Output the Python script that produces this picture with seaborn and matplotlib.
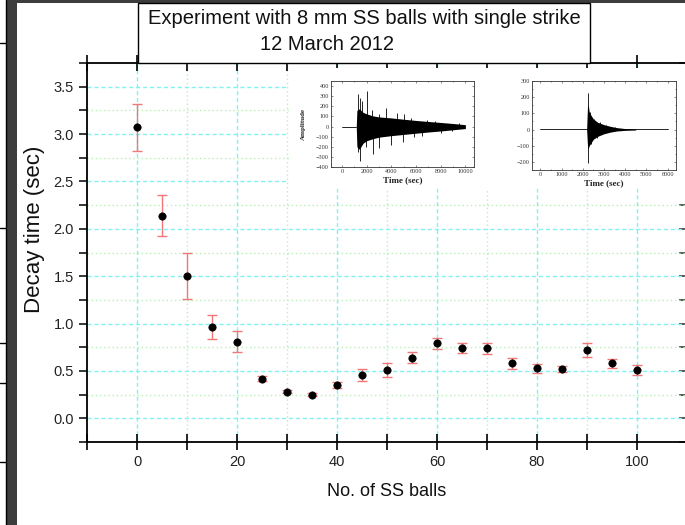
import matplotlib
matplotlib.use("Agg")
import matplotlib.pyplot as plt
import seaborn as sns
from matplotlib.patches import Rectangle
from matplotlib.lines import Line2D
from matplotlib.ticker import MultipleLocator

# main plot: decay time vs number of balls
balls = [0, 5, 10, 15, 20, 25, 30, 35, 40, 45, 50, 55, 60, 65, 70, 75, 80, 85, 90, 95, 100]
decay = [3.07, 2.14, 1.50, 0.96, 0.81, 0.42, 0.28, 0.25, 0.35, 0.46, 0.51, 0.64,
         0.79, 0.74, 0.74, 0.58, 0.53, 0.52, 0.72, 0.58, 0.51]
decay_err = [0.245, 0.215, 0.245, 0.127, 0.11, 0.025, 0.015, 0.012, 0.035, 0.065, 0.074,
             0.058, 0.056, 0.05, 0.058, 0.057, 0.047, 0.035, 0.076, 0.045, 0.057]

# inset 1: long ring-down, envelope + single peaks
flat1_t = [0, 1150]
flat1_amp = [0, 0]
env1_t = [1150, 1200, 1400, 1700, 2000, 2500, 3000, 4000, 5000, 6000, 7000, 8000, 9000, 10000]
env1_hi = [0, 160, 175, 140, 125, 105, 95, 85, 72, 60, 50, 40, 30, 18]
env1_lo = [0, -200, -225, -165, -140, -120, -105, -90, -78, -66, -54, -44, -32, -20]
peak1_t = [1250, 1420, 1590, 2010, 2420, 2960, 3540, 4430, 5000, 5600, 6850, 7500, 8060, 8920, 9500,
           1300, 1480, 1900, 2500, 2960, 3980, 4970, 5800, 6450, 8010, 8900]
peak1_amp = [325, 280, 250, 348, 165, 120, 185, 135, 120, 80, 60, 50, 36, 22, 30,
             -250, -340, -200, -270, -215, -185, -155, -100, -90, -62, -46]

# inset 2: short ring-down
flat2_t = [0, 6000]
flat2_amp = [2, 2]
env2_t = [2180, 2220, 2260, 2300, 2400, 2500, 2700, 3000, 3300, 3600, 4000, 4500]
env2_hi = [0, 140, 150, 110, 85, 65, 45, 30, 20, 12, 6, 3]
env2_lo = [0, -100, -120, -100, -80, -60, -42, -26, -16, -9, -5, -3]
peak2_t = [2250, 2265, 2330, 2400, 2520, 2650, 2800, 3100, 3500]
peak2_amp = [228, -208, 110, -90, 65, -50, 45, 30, 18]

sns.set_theme(style="ticks")
plt.rcParams['font.family'] = ['Liberation Sans', 'DejaVu Sans']

W, H = 685, 525
fig = plt.figure(figsize=(W / 100, H / 100), dpi=100)
fig.patch.set_facecolor('white')

# page decoration at the left / top edge of the screenshot
fig.patches.append(Rectangle((7 / W, 0), 10 / W, 1, transform=fig.transFigure,
                             fc='#3d3d3d', ec='none', zorder=0))
fig.patches.append(Rectangle((17 / W, 1 - 3 / H), 1, 3 / H, transform=fig.transFigure,
                             fc='#3d3d3d', ec='none', zorder=0))
fig.lines.append(Line2D([6 / W, 6 / W], [0, 1], transform=fig.transFigure, color='black', lw=1))
for yy in [43, 228, 343, 383, 462]:
    fig.lines.append(Line2D([0, 6 / W], [1 - yy / H, 1 - yy / H], transform=fig.transFigure,
                            color='black', lw=1))

ax = fig.add_axes([87 / W, 83 / H, 600 / W, 379 / H])
ax.set_axisbelow(True)

ax.errorbar(balls, decay, yerr=decay_err, fmt='none', ecolor='#f07878',
            elinewidth=1, capsize=3.5, capthick=1, zorder=2)
sns.scatterplot(x=balls, y=decay, color='black', s=28, edgecolor='black', linewidth=0.5,
                zorder=3, ax=ax)

ax.set_xlim(-10, 110)
ax.set_ylim(-0.25, 3.75)
ax.xaxis.set_major_locator(MultipleLocator(20))
ax.xaxis.set_minor_locator(MultipleLocator(10))
ax.yaxis.set_major_locator(MultipleLocator(0.5))
ax.yaxis.set_minor_locator(MultipleLocator(0.25))
ax.yaxis.set_major_formatter(lambda v, p: f"{v:.1f}")

ax.grid(which='major', color='#86f0f0', ls=(0, (3, 2)), lw=1.0, snap=True)
ax.grid(which='minor', color='#b8f0b8', ls=(0, (1, 2)), lw=1.0, snap=True)

for s in ax.spines.values():
    s.set_linewidth(1.3)
    s.set_color('black')
# x ticks on bottom and top, crossing the spine
ax.tick_params(axis='x', which='both', direction='inout', length=11, width=1.2,
               top=True, labelsize=10.5, pad=4, colors='black', labelcolor='#222222')
ax.tick_params(axis='y', which='both', direction='out', length=6, width=1.1,
               labelsize=10.5, colors='black', labelcolor='#222222')

ax.set_xlabel('No. of SS balls', fontsize=13, labelpad=10, color='#111111')
ax.set_ylabel('Decay time (sec)', fontsize=16, color='#111111')
ax.yaxis.set_label_coords(-0.07, 0.56)

# white area of the pasted waveform pictures hides the grid
ax.add_patch(Rectangle((0.337, 0.667), 0.67, 0.32, transform=ax.transAxes,
                       fc='white', ec='none', zorder=1))

# ticks on the right spine point inwards
right = ax.secondary_yaxis('right')
right.yaxis.set_major_locator(MultipleLocator(0.5))
right.yaxis.set_minor_locator(MultipleLocator(0.25))
right.tick_params(which='both', direction='in', length=6, width=1.1, labelright=False)
right.grid(False)

serif = ['Liberation Serif', 'DejaVu Serif']


def waveform(axi, flat_t, flat_amp, env_t, env_hi, env_lo, peak_t, peak_amp):
    sns.lineplot(x=flat_t, y=flat_amp, color='black', lw=0.6, ax=axi)
    axi.fill_between(env_t, env_lo, env_hi, color='black', lw=0)
    axi.vlines(peak_t, 0, peak_amp, color='black', lw=0.6)
    for s in axi.spines.values():
        s.set_linewidth(0.6)
        s.set_color('#333333')
    axi.tick_params(which='both', direction='in', length=1.5, width=0.4,
                    top=True, right=True, labelsize=4.5, pad=1.5, colors='#333333')
    axi.tick_params(which='minor', length=1)
    for lab in axi.get_xticklabels() + axi.get_yticklabels():
        lab.set_family(serif)
    axi.set_xlabel('Time (sec)', fontsize=6.5, family=serif, fontweight='bold',
                   labelpad=1.5, color='#222222')


ax1 = fig.add_axes([331 / W, 1 - 167 / H, 143 / W, 86 / H])
ax1.set_xlim(-900, 10700)
ax1.set_ylim(-400, 450)
ax1.xaxis.set_major_locator(MultipleLocator(2000))
ax1.xaxis.set_minor_locator(MultipleLocator(1000))
ax1.set_yticks(range(-400, 401, 100))
waveform(ax1, flat1_t, flat1_amp, env1_t, env1_hi, env1_lo, peak1_t, peak1_amp)
ax1.set_ylabel('Amplitude', fontsize=5, family=serif, fontweight='bold',
               labelpad=7, color='#222222')

ax2 = fig.add_axes([532 / W, 1 - 170 / H, 144 / W, 89 / H])
ax2.set_xlim(-400, 6400)
ax2.set_ylim(-250, 300)
ax2.xaxis.set_major_locator(MultipleLocator(1000))
ax2.xaxis.set_minor_locator(MultipleLocator(500))
ax2.yaxis.set_major_locator(MultipleLocator(100))
ax2.yaxis.set_minor_locator(MultipleLocator(50))
waveform(ax2, flat2_t, flat2_amp, env2_t, env2_hi, env2_lo, peak2_t, peak2_amp)

# title box, its lower edge sits on the top spine
fig.patches.append(Rectangle((138 / W, 1 - 63 / H), 452 / W, 60 / H, transform=fig.transFigure,
                             fc='white', ec='black', lw=1, zorder=10))
fig.text(364 / W, 1 - 19 / H, 'Experiment with 8 mm SS balls with single strike',
         ha='center', va='center', fontsize=14.5, color='#111111', zorder=11)
fig.text(327 / W, 1 - 45 / H, '12 March 2012', ha='center', va='center',
         fontsize=14.5, color='#111111', zorder=11)

fig.savefig('out.png', dpi=100)
